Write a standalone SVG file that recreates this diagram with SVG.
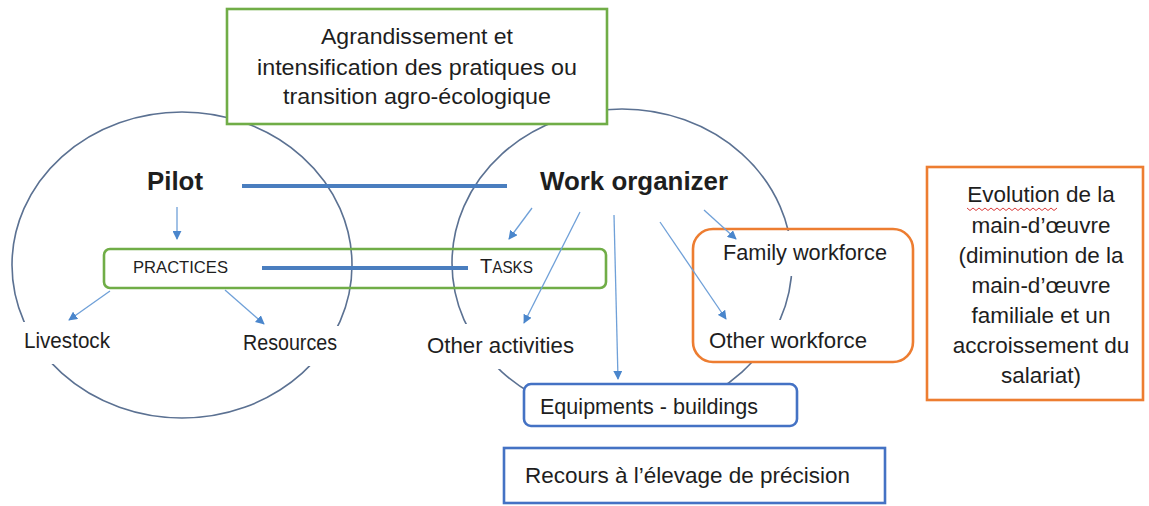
<svg xmlns="http://www.w3.org/2000/svg" width="1149" height="506" viewBox="0 0 1149 506">
<defs>
<style>
text{font-family:"Liberation Sans",Arial,sans-serif;fill:#1e1e1e;}
.big{font-size:26px;font-weight:bold;}
.lbl{font-size:21.5px;}
.box{font-size:22.5px;text-anchor:middle;}
.circ{fill:none;stroke:#5b7192;stroke-width:1.6;}
.bg{fill:#ffffff;stroke:none;}
.green{fill:none;stroke:#70ad47;stroke-width:2.6;}
.greenw{fill:#ffffff;stroke:#70ad47;stroke-width:2.6;}
.orange{fill:none;stroke:#ed7d31;stroke-width:2.6;}
.orangew{fill:#ffffff;stroke:#ed7d31;stroke-width:2.6;}
.bluew{fill:#ffffff;stroke:#4472c4;stroke-width:2.6;}
.link{stroke:#4a7ebf;stroke-width:4;fill:none;}
.arr{stroke:#6fa0d8;stroke-width:1.3;fill:none;marker-end:url(#ah);}
</style>
<marker id="ah" viewBox="0 0 10 10" refX="9" refY="5" markerUnits="userSpaceOnUse" markerWidth="9" markerHeight="9" orient="auto">
<path d="M0,0 L10,5 L0,10 z" fill="#4a86cc"/>
</marker>
</defs>

<g id="pilot-circle"><ellipse class="circ" cx="182" cy="265" rx="170" ry="153"/></g>
<g id="organizer-circle"><ellipse class="circ" cx="622" cy="263" rx="170" ry="154"/></g>

<g id="practices-tasks">
<rect class="green" x="104" y="249" width="502" height="39" rx="6"/>
<text x="133" y="273" font-size="17" textLength="95" lengthAdjust="spacingAndGlyphs">PRACTICES</text>
<text x="480" y="273" textLength="53" lengthAdjust="spacingAndGlyphs"><tspan font-size="21">T</tspan><tspan font-size="16">ASKS</tspan></text>
</g>

<g id="transformation">
<rect class="greenw" x="227" y="9" width="380" height="115"/>
<text class="box" x="417" y="44" textLength="192" lengthAdjust="spacingAndGlyphs">Agrandissement et</text>
<text class="box" x="417" y="75" textLength="320" lengthAdjust="spacingAndGlyphs">intensification des pratiques ou</text>
<text class="box" x="417" y="104" textLength="268" lengthAdjust="spacingAndGlyphs">transition agro-écologique</text>
</g>

<g id="pilot"><text class="big" x="147" y="190" textLength="56" lengthAdjust="spacingAndGlyphs">Pilot</text></g>
<g id="work-organizer"><text class="big" x="540" y="190" textLength="188" lengthAdjust="spacingAndGlyphs">Work organizer</text></g>

<g id="livestock">
<rect class="bg" x="10" y="322" width="108" height="42"/>
<text class="lbl" x="24" y="348" textLength="86" lengthAdjust="spacingAndGlyphs">Livestock</text>
</g>
<g id="resources">
<rect class="bg" x="236" y="326" width="116" height="40"/>
<text class="lbl" x="243" y="350" textLength="94" lengthAdjust="spacingAndGlyphs">Resources</text>
</g>
<g id="other-activities">
<rect class="bg" x="420" y="324" width="160" height="45"/>
<text class="lbl" x="427" y="353" textLength="147" lengthAdjust="spacingAndGlyphs">Other activities</text>
</g>

<g id="workforce">
<rect class="bg" x="742" y="231" width="158" height="45"/>
<rect class="bg" x="705" y="320" width="190" height="41"/>
<rect class="orange" x="693" y="229" width="220" height="133" rx="20"/>
<text class="lbl" x="723" y="260" textLength="164" lengthAdjust="spacingAndGlyphs">Family workforce</text>
<text class="lbl" x="709" y="348" textLength="158" lengthAdjust="spacingAndGlyphs">Other workforce</text>
</g>

<g id="equipments">
<rect class="bluew" x="524" y="384" width="273" height="42" rx="7"/>
<text class="lbl" x="540" y="414" textLength="218" lengthAdjust="spacingAndGlyphs">Equipments - buildings</text>
</g>

<g id="precision">
<rect class="bluew" x="504" y="448" width="381" height="55"/>
<text class="lbl" x="525" y="483" textLength="325" lengthAdjust="spacingAndGlyphs">Recours à l’élevage de précision</text>
</g>

<g id="evolution">
<rect class="orangew" x="927" y="167" width="216" height="233"/>
<text class="box" x="1041" y="202">Evolution de la</text>
<path d="M967,208 l3,2.5 l3,-2.5 l3,2.5 l3,-2.5 l3,2.5 l3,-2.5 l3,2.5 l3,-2.5 l3,2.5 l3,-2.5 l3,2.5 l3,-2.5 l3,2.5 l3,-2.5 l3,2.5 l3,-2.5 l3,2.5 l3,-2.5 l3,2.5 l3,-2.5 l3,2.5 l3,-2.5 l3,2.5 l3,-2.5 l3,2.5 l3,-2.5 l3,2.5 l3,-2.5 l3,2.5 l3,-2.5" fill="none" stroke="#d93a3a" stroke-width="1"/>
<text class="box" x="1041" y="233">main-d’œuvre</text>
<text class="box" x="1041" y="263">(diminution de la</text>
<text class="box" x="1041" y="293">main-d’œuvre</text>
<text class="box" x="1041" y="323">familiale et un</text>
<text class="box" x="1041" y="353">accroissement du</text>
<text class="box" x="1041" y="383">salariat)</text>
</g>

<g id="connectors">
<line class="link" x1="242" y1="186" x2="507" y2="186"/>
<line class="link" x1="262" y1="268" x2="468" y2="268"/>
<line class="arr" x1="177" y1="207" x2="177" y2="239"/>
<line class="arr" x1="110" y1="291" x2="69" y2="320"/>
<line class="arr" x1="225" y1="290" x2="264" y2="324"/>
<line class="arr" x1="532" y1="208" x2="509" y2="239"/>
<line class="arr" x1="580" y1="212" x2="524" y2="323"/>
<line class="arr" x1="614" y1="215" x2="618" y2="379"/>
<line class="arr" x1="660" y1="222" x2="726" y2="319"/>
<line class="arr" x1="704" y1="210" x2="736" y2="239"/>
</g>
</svg>
